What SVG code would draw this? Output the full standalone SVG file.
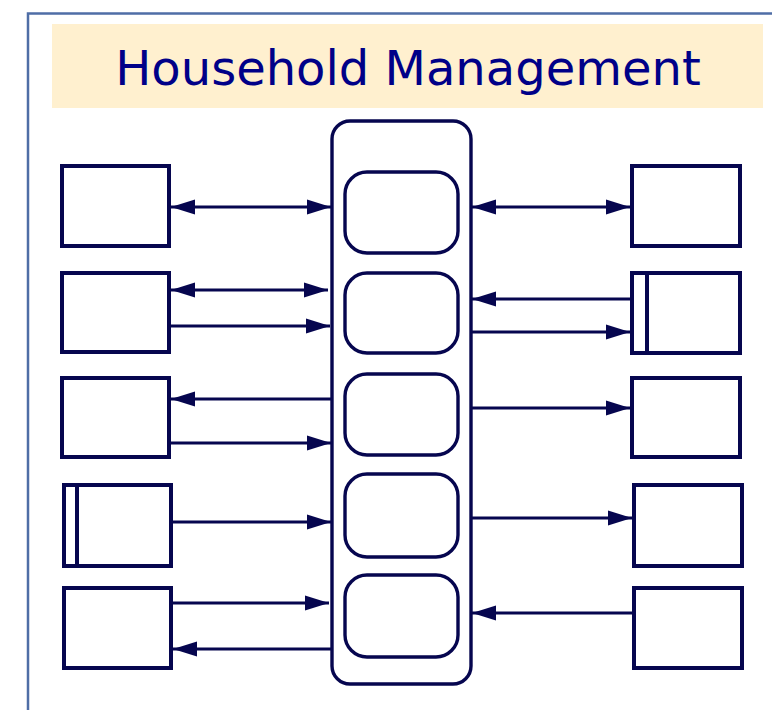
<svg xmlns="http://www.w3.org/2000/svg" width="772" height="710" viewBox="0 0 772 710">
<style>
.box{fill:#fff;stroke:#06064f;stroke-width:4}
.rr{fill:#fff;stroke:#06064f;stroke-width:3.4}
.c{fill:none;stroke:#06064f;stroke-width:3.2}
.title{font-family:"Comic Sans MS","DejaVu Sans",sans-serif;font-size:48px;fill:#000088}
</style>
<defs>
<marker id="ah" markerUnits="userSpaceOnUse" markerWidth="24" markerHeight="16" refX="24" refY="8" orient="auto-start-reverse" viewBox="0 0 24 16">
<path d="M0,0.5 L24,8 L0,15.5 z" fill="#06064f"/>
</marker>
</defs>
<rect x="0" y="0" width="772" height="710" fill="#fff"/>
<path d="M28,710 V13.5 H772" fill="none" stroke="#4f6ea6" stroke-width="2.5"/>
<g id="title">
<rect x="52" y="24" width="711" height="84" fill="#fff0cf"/>
<text class="title" x="408" y="85" text-anchor="middle">Household Management</text>
</g>
<g id="center">
<rect class="rr" x="332" y="121" width="139" height="563" rx="18"/>
<rect id="p1" class="rr" x="345" y="172" width="113" height="81" rx="22"/>
<rect id="p2" class="rr" x="345" y="273" width="113" height="80" rx="22"/>
<rect id="p3" class="rr" x="345" y="374" width="113" height="81" rx="22"/>
<rect id="p4" class="rr" x="345" y="474" width="113" height="83" rx="22"/>
<rect id="p5" class="rr" x="345" y="575" width="113" height="82" rx="22"/>
</g>
<g id="L1"><rect class="box" x="62" y="166" width="107" height="80"/></g>
<g id="L2"><rect class="box" x="62" y="273" width="107" height="79"/></g>
<g id="L3"><rect class="box" x="62" y="378" width="107" height="79"/></g>
<g id="L4"><rect class="box" x="64" y="485" width="107" height="81"/><line class="box" x1="77" y1="485" x2="77" y2="566"/></g>
<g id="L5"><rect class="box" x="64" y="588" width="107" height="80"/></g>
<g id="R1"><rect class="box" x="632" y="166" width="108" height="80"/></g>
<g id="R2"><rect class="box" x="632" y="273" width="108" height="80"/><line class="box" x1="647" y1="273" x2="647" y2="353"/></g>
<g id="R3"><rect class="box" x="632" y="378" width="108" height="79"/></g>
<g id="R4"><rect class="box" x="634" y="485" width="108" height="81"/></g>
<g id="R5"><rect class="box" x="634" y="588" width="108" height="80"/></g>
<g id="connectors">
<line class="c" x1="171" y1="207" x2="331" y2="207" marker-start="url(#ah)" marker-end="url(#ah)"/>
<line class="c" x1="472" y1="207" x2="630" y2="207" marker-start="url(#ah)" marker-end="url(#ah)"/>
<line class="c" x1="171" y1="290" x2="328" y2="290" marker-start="url(#ah)" marker-end="url(#ah)"/>
<line class="c" x1="170" y1="326" x2="330" y2="326" marker-end="url(#ah)"/>
<line class="c" x1="632" y1="299" x2="472" y2="299" marker-end="url(#ah)"/>
<line class="c" x1="471" y1="332" x2="630" y2="332" marker-end="url(#ah)"/>
<line class="c" x1="332" y1="399" x2="171" y2="399" marker-end="url(#ah)"/>
<line class="c" x1="170" y1="443" x2="331" y2="443" marker-end="url(#ah)"/>
<line class="c" x1="471" y1="408" x2="630" y2="408" marker-end="url(#ah)"/>
<line class="c" x1="172" y1="522" x2="331" y2="522" marker-end="url(#ah)"/>
<line class="c" x1="471" y1="518" x2="632" y2="518" marker-end="url(#ah)"/>
<line class="c" x1="169" y1="603" x2="329" y2="603" marker-end="url(#ah)"/>
<line class="c" x1="332" y1="649" x2="173" y2="649" marker-end="url(#ah)"/>
<line class="c" x1="634" y1="613" x2="472" y2="613" marker-end="url(#ah)"/>
</g>
</svg>
